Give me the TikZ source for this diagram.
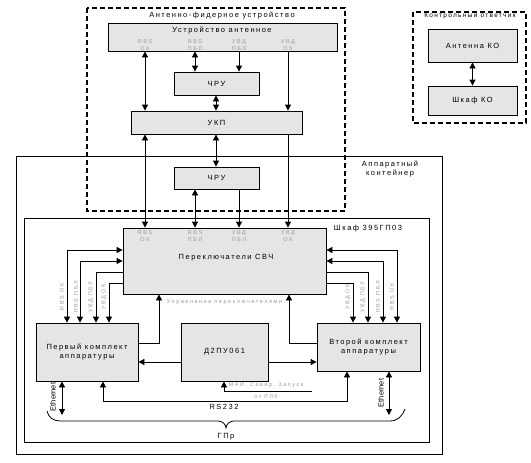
\documentclass[tikz,border=0pt]{standalone}
\usepackage{fontspec}
\setmainfont{Liberation Sans}
\newfontfamily\razr[LetterSpace=20]{Liberation Sans}
\newfontfamily\melko[LetterSpace=28]{Liberation Sans}
\usetikzlibrary{positioning,arrows.meta}

\begin{document}
\begin{tikzpicture}[x=1pt, y=-1pt,
    >={Triangle[length=6pt,width=6pt]},
    every node/.style={inner sep=1pt, font=\razr\fontsize{7.5}{9.5}\selectfont},
    blok/.style 2 args={draw, fill=black!10, line width=0.8pt,
      minimum width=#1, minimum height=#2, align=center},
    ramka/.style={draw, line width=1.5pt, dash pattern=on 5pt off 3pt},
    korp/.style={draw, line width=0.8pt},
    svaz/.style={line width=0.8pt},
    metka/.style={font=\melko\fontsize{5.5}{6.5}\selectfont, text=black!40, align=center},
    vmetka/.style={metka, rotate=90},
    eth/.style={rotate=90, font=\fontsize{7.5}{9}\selectfont}]
  \path[use as bounding box] (0,0) rectangle (531,463);
  % корпуса
  \draw[korp] (16,156) rectangle (442,454);
  \draw[korp] (24,218) rectangle (429,442);
  \draw[ramka] (87,8) rectangle (345,211);
  \draw[ramka] (413,12) rectangle (526,123);
  \node (afu) at (222,15) {Антенно-фидерное устройство};
  \node[font=\razr\fontsize{6.5}{8}\selectfont] (kotv) at (470,16) {Контрольный ответчик};
  \node[align=center] (apk) at (390,169) {Аппаратный\\контейнер};
  \node (shkaf) at (368,229) {Шкаф 395ГП03};

  % блоки
  \node[blok={229pt}{28pt}] (ua) at (222.5,37) {};
  \node (uat) at (222,30) {Устройство антенное};
  \node[blok={85pt}{23pt}] (chru1) at (216.5,83.5) {ЧРУ};
  \node[blok={171pt}{23pt}] (ukp) at (216.5,122.5) {УКП};
  \node[blok={85pt}{22pt}] (chru2) at (216.5,178) {ЧРУ};
  \node[blok={203pt}{66pt}] (perekl) at (224.5,261) {};
  \node (peret) at (226,258) {Переключатели СВЧ};
  \node[blok={102pt}{58pt}] (k1) at (87,352) {Первый комплект\\аппаратуры};
  \node[blok={87pt}{58pt}] (d2pu) at (224.5,352) {Д2ПУ061};
  \node[blok={103pt}{48pt}] (k2) at (368.5,347) {Второй комплект\\аппаратуры};
  \node[blok={89pt}{33pt}] (antko) at (472.5,45.5) {Антенна КО};
  \node[blok={89pt}{29pt}] (shko) at (472.5,100.5) {Шкаф КО};
  \draw[svaz,<->] (antko) -- (shko);

  % вертикальные линии
  \coordinate (xa) at (145,0);
  \coordinate (xb) at (195,0);
  \coordinate (xc) at (239,0);
  \coordinate (xd) at (288,0);
  \coordinate (xm) at (216,0);
  \node[metka, anchor=south] at (ua.south -| xa) {RBS\\ОК};
  \node[metka, anchor=south] at (ua.south -| xb) {RBS\\ПБЛ};
  \node[metka, anchor=south] at (ua.south -| xc) {УВД\\ПБЛ};
  \node[metka, anchor=south] at (ua.south -| xd) {УВД\\ОК};
  \node[metka, anchor=north] at ([yshift=-2pt]perekl.north -| xa) {RBS\\ОК};
  \node[metka, anchor=north] at ([yshift=-2pt]perekl.north -| xb) {RBS\\ПБЛ};
  \node[metka, anchor=north] at ([yshift=-2pt]perekl.north -| xc) {УВД\\ПБЛ};
  \node[metka, anchor=north] at ([yshift=-2pt]perekl.north -| xd) {УВД\\ОК};
  \draw[svaz,<->] (ua.south -| xa) -- (ukp.north -| xa);
  \draw[svaz,<->] (ua.south -| xb) -- (chru1.north -| xb);
  \draw[svaz,->] (ua.south -| xc) -- (chru1.north -| xc);
  \draw[svaz,->] (ua.south -| xd) -- (ukp.north -| xd);
  \draw[svaz,<->] (chru1.south -| xm) -- (ukp.north -| xm);
  \draw[svaz,<->] (ukp.south -| xa) -- (perekl.north -| xa);
  \draw[svaz,<->] (ukp.south -| xm) -- (chru2.north -| xm);
  \draw[svaz,->] (ukp.south -| xd) -- (perekl.north -| xd);
  \draw[svaz,<->] (chru2.south -| xb) -- (perekl.north -| xb);
  \draw[svaz,->] (chru2.south -| xc) -- (perekl.north -| xc);

  % к комплектам
  \draw[svaz,<->] (perekl.west |- 0,250) -| (k1.north -| 67,0);
  \draw[svaz,<->] (perekl.west |- 0,261) -| (k1.north -| 80,0);
  \draw[svaz,->] (perekl.west |- 0,272) -| (k1.north -| 96,0);
  \draw[svaz,->] (perekl.west |- 0,283) -| (k1.north -| 109,0);
  \draw[svaz,<->] (perekl.east |- 0,250) -| (k2.north -| 397,0);
  \draw[svaz,<->] (perekl.east |- 0,261) -| (k2.north -| 383,0);
  \draw[svaz,->] (perekl.east |- 0,272) -| (k2.north -| 368,0);
  \draw[svaz,->] (perekl.east |- 0,283) -| (k2.north -| 353,0);
  \node[vmetka] at (62,297) {RBS ОК};
  \node[vmetka] at (76,297) {RBS ПБЛ};
  \node[vmetka] at (91,297) {УВД ПБЛ};
  \node[vmetka] at (104,297) {УВД ОК};
  \node[vmetka] at (348,297) {УВД ОК};
  \node[vmetka] at (363,297) {УВД ПБЛ};
  \node[vmetka] at (378,297) {RBS ПБЛ};
  \node[vmetka] at (392,297) {RBS ОК};

  % управление
  \draw[svaz,->] (k1.east |- 0,343) -| (perekl.south -| 159,0);
  \draw[svaz,->] (k2.west |- 0,343) -| (perekl.south -| 289,0);
  \node[metka, anchor=north] (upr) at ([yshift=-4pt]perekl.south) {Управление переключателями};
  \draw[svaz,->] (d2pu.west |- 0,362) -- (k1.east |- 0,362);
  \draw[svaz,->] (d2pu.east |- 0,362) -- (k2.west |- 0,362);

  % внешние линии
  \coordinate (mai) at (312,391);
  \draw[svaz,->] (mai) -| (d2pu.south -| 224,0);
  \node[metka] (mai1) at (266,385.5) {МАИ, Север, Запуск};
  \node[metka] (mai2) at (266,396.5) {от РЛК};
  \coordinate (rs) at (0,401);
  \draw[svaz,<->] (k1.south -| 103,0) |- (rs -| 347,0) -- (k2.south -| 347,0);
  \node (rsl) at (224,407) {RS232};
  \coordinate (eth1) at (62,415);
  \coordinate (eth2) at (389,415);
  \draw[svaz,<->] (k1.south -| eth1) -- (eth1);
  \draw[svaz,<->] (k2.south -| eth2) -- (eth2);
  \node[eth] at (53,397) {Ethernet};
  \node[eth] at (381,393) {Ethernet};
  % скобка
  \draw[svaz] (47,411) to[out=-80,in=180] (60,421) -- (218,421)
    to[out=0,in=95] (226,428) to[out=85,in=180] (234,421) -- (390,421)
    to[out=0,in=-110] (405,409);
  \node (gpr) at (226,437) {ГПр};
\end{tikzpicture}
\end{document}
